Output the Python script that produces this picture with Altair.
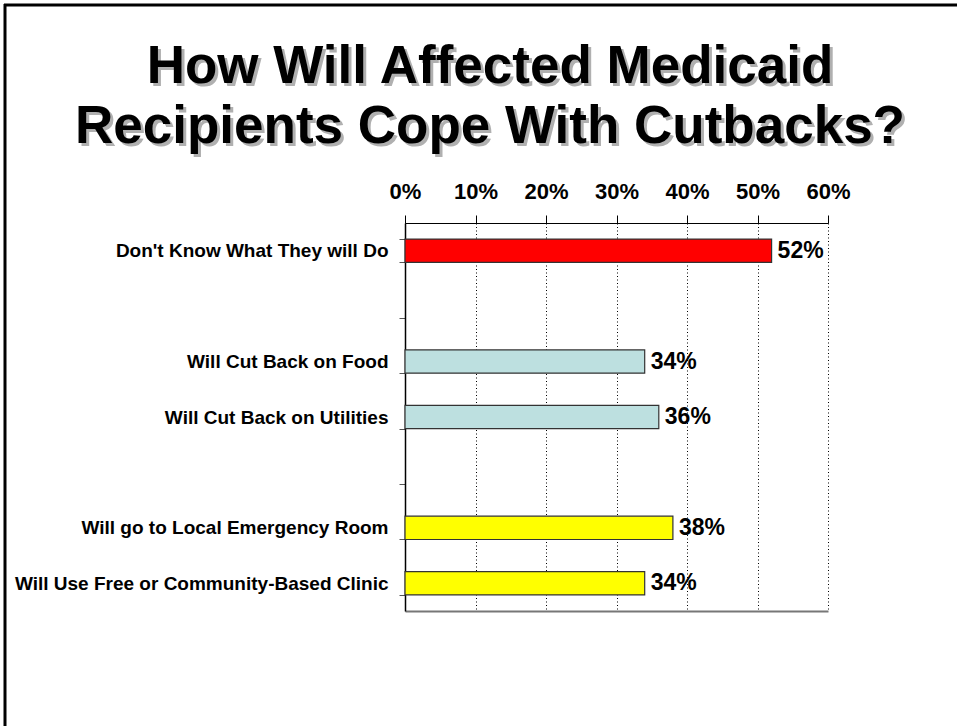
import altair as alt
import pandas as pd

categories = [
    "Don't Know What They will Do",
    " ",
    "Will Cut Back on Food",
    "Will Cut Back on Utilities",
    "  ",
    "Will go to Local Emergency Room",
    "Will Use Free or Community-Based Clinic",
]
values = [0.52, None, 0.34, 0.36, None, 0.38, 0.34]
colors = ["#ff0000", None, "#bde0e0", "#bde0e0", None, "#ffff00", "#ffff00"]
tick_values = [0, 0.1, 0.2, 0.3, 0.4, 0.5, 0.6]
title_lines = ["How Will Affected Medicaid", "Recipients Cope With Cutbacks?"]

FONT = "Liberation Sans"
W, H = 423, 388

df = pd.DataFrame({"cat": categories, "value": values, "color": colors})
bars_df = df.dropna()

yscale = alt.Scale(domain=categories, paddingInner=0.58, paddingOuter=0.29)
xscale = alt.Scale(domain=[0, 0.6], nice=False)

base = alt.Chart(bars_df)

bars = base.mark_bar(stroke="#333333", strokeWidth=1.2).encode(
    x=alt.X(
        "value:Q",
        scale=xscale,
        axis=alt.Axis(
            orient="top",
            values=tick_values,
            format=".0%",
            title=None,
            labelFont=FONT,
            labelFontSize=22,
            labelFontWeight="bold",
            labelColor="black",
            labelPadding=12,
            labelFlush=False,
            labelOverlap=False,
            tickSize=8,
            tickColor="black",
            domainColor="black",
            domainWidth=1,
            grid=True,
            gridColor="black",
            gridDash=[1, 2.5],
            gridWidth=1,
        ),
    ),
    y=alt.Y(
        "cat:N",
        sort=categories,
        scale=yscale,
        axis=alt.Axis(
            title=None,
            tickBand="extent",
            labelFont=FONT,
            labelFontSize=19,
            labelFontWeight="bold",
            labelColor="black",
            labelPadding=11,
            tickSize=6,
            tickColor="#555555",
            domainColor="black",
            domainWidth=1.5,
            labelLimit=500,
        ),
    ),
    color=alt.Color("color:N", scale=None, legend=None),
)

labels = base.mark_text(
    align="left", baseline="middle", dx=6, font=FONT, fontSize=23, fontWeight="bold", color="black"
).encode(
    x=alt.X(
        "value:Q",
        scale=xscale,
        axis=alt.Axis(
            orient="bottom",
            labels=False,
            ticks=False,
            grid=False,
            title=None,
            domainColor="#777777",
            domainWidth=2,
        ),
    ),
    y=alt.Y("cat:N", sort=categories, scale=yscale),
    text=alt.Text("value:Q", format=".0%"),
)

title_text = "\n".join(title_lines)
tdata = alt.Data(values=[{"t": title_text}])

title_shadow = alt.Chart(tdata).mark_text(
    align="center", baseline="alphabetic", font=FONT, fontSize=53, fontWeight="bold",
    color="#b0b0b0", lineBreak="\n", lineHeight=60, dx=3, dy=3,
).encode(x=alt.value(85), y=alt.value(-140), text="t:N")

title_main = alt.Chart(tdata).mark_text(
    align="center", baseline="alphabetic", font=FONT, fontSize=53, fontWeight="bold",
    color="black", lineBreak="\n", lineHeight=60,
).encode(x=alt.value(85), y=alt.value(-140), text="t:N")

one = alt.Data(values=[{"a": 1}])
border_top = alt.Chart(one).mark_rule(color="black", strokeWidth=3).encode(
    x=alt.value(-401), x2=alt.value(560), y=alt.value(-218)
)
border_left = alt.Chart(one).mark_rule(color="black", strokeWidth=3).encode(
    x=alt.value(-400), y=alt.value(-219), y2=alt.value(510)
)

chart = (
    alt.layer(bars, labels, title_shadow, title_main, border_top, border_left)
    .resolve_axis(x="independent")
    .properties(
        width=W,
        height=H,
        autosize=alt.AutoSizeParams(type="none"),
        padding={"left": 405, "top": 223, "right": 129, "bottom": 115},
        background="white",
    )
    .configure_view(stroke=None)
)

chart.save("out.html", embed_options={"renderer": "svg", "actions": False})
